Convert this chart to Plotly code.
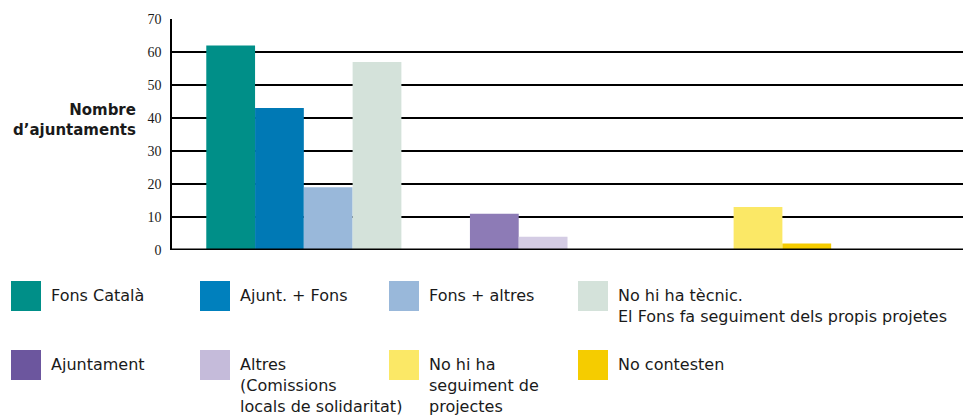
import plotly.graph_objects as go

# three blocks of bars along the x axis
groups = ["A", "B", "C"]

series_names = [
    "Fons Català",
    "Ajunt. + Fons",
    "Fons + altres",
    "No hi ha tècnic.<br>El Fons fa seguiment dels propis projetes",
    "Ajuntament",
    "Altres<br>(Comissions<br>locals de solidaritat)",
    "No hi ha<br>seguiment de<br>projectes",
    "No contesten",
]
series_group = ["A", "A", "A", "A", "B", "B", "C", "C"]
series_slot = [1, 2, 3, 4, 1, 2, 1, 2]
series_values = [62, 43, 19, 57, 11, 4, 13, 2]
bar_colors = ["#008f88", "#0079b5", "#99b8da", "#d4e2da",
              "#8d7bb6", "#d4cce4", "#fbe866", "#f5cc00"]
legend_colors = ["#008f88", "#0080bd", "#99b8da", "#d4e2da",
                 "#6c569e", "#c5bbda", "#fbe866", "#f5cc00"]

y_ticks = [0, 10, 20, 30, 40, 50, 60, 70]

# pixel layout of the page
L, R, T, B = 172, 963, 19, 250
W, H = 963, 418


def px_x(p):
    return (p - L) / (R - L)


def px_y(p):
    return (B - p) / (B - T)


fig = go.Figure()
for name, grp, slot, val, col in zip(series_names, series_group, series_slot,
                                     series_values, bar_colors):
    fig.add_trace(go.Bar(
        x=[grp], y=[val], name=name, offsetgroup=str(slot),
        marker=dict(color=col, line=dict(width=0)),
        showlegend=False,
    ))

# legend drawn by hand: 4 columns x 2 rows
col_x = [11, 200, 389, 578]
row_y = [281, 350]
shapes = []
annotations = []
for i, (name, col) in enumerate(zip(series_names, legend_colors)):
    cx = col_x[i % 4]
    ry = row_y[i // 4]
    shapes.append(dict(
        type="rect", xref="paper", yref="paper",
        x0=px_x(cx), x1=px_x(cx + 30), y0=px_y(ry), y1=px_y(ry + 30),
        fillcolor=col, line=dict(width=0), layer="above",
    ))
    annotations.append(dict(
        text=name, xref="paper", yref="paper",
        x=px_x(cx + 38), y=px_y(ry + 3), xanchor="left", yanchor="top",
        align="left", showarrow=False,
        font=dict(family="DejaVu Sans", size=16, color="#1a1a1a"),
    ))

annotations.append(dict(
    text="<b>Nombre<br>d’ajuntaments</b>", xref="paper", yref="paper",
    x=px_x(138), y=px_y(120), xanchor="right", yanchor="middle",
    align="right", showarrow=False,
    font=dict(family="DejaVu Sans", size=15, color="#1a1a1a"),
))

# thick baseline
shapes.append(dict(
    type="line", xref="paper", yref="y", x0=0, x1=1, y0=0, y1=0,
    line=dict(color="black", width=3), layer="above",
))

fig.update_layout(
    width=W, height=H,
    margin=dict(l=L, r=W - R, t=T, b=H - B),
    barmode="group", bargap=0.26, bargroupgap=0,
    plot_bgcolor="white", paper_bgcolor="white",
    shapes=shapes, annotations=annotations,
    xaxis=dict(
        categoryorder="array", categoryarray=groups,
        range=[-0.5, 2.5], showticklabels=False, showgrid=False,
        zeroline=False, showline=False, ticks="",
    ),
    yaxis=dict(
        range=[0, 70], tickvals=y_ticks, showgrid=True,
        gridcolor="black", gridwidth=1.5, zeroline=False,
        showline=True, linecolor="black", linewidth=1.5,
        ticks="", ticklabelstandoff=6,
        tickfont=dict(family="Liberation Serif", size=14, color="#1a1a1a"),
    ),
)

# drop the page's default body margin so the figure sits at the top-left
fig.write_html("out.html", config={"displayModeBar": False},
               post_script="document.body.style.margin='0';")
